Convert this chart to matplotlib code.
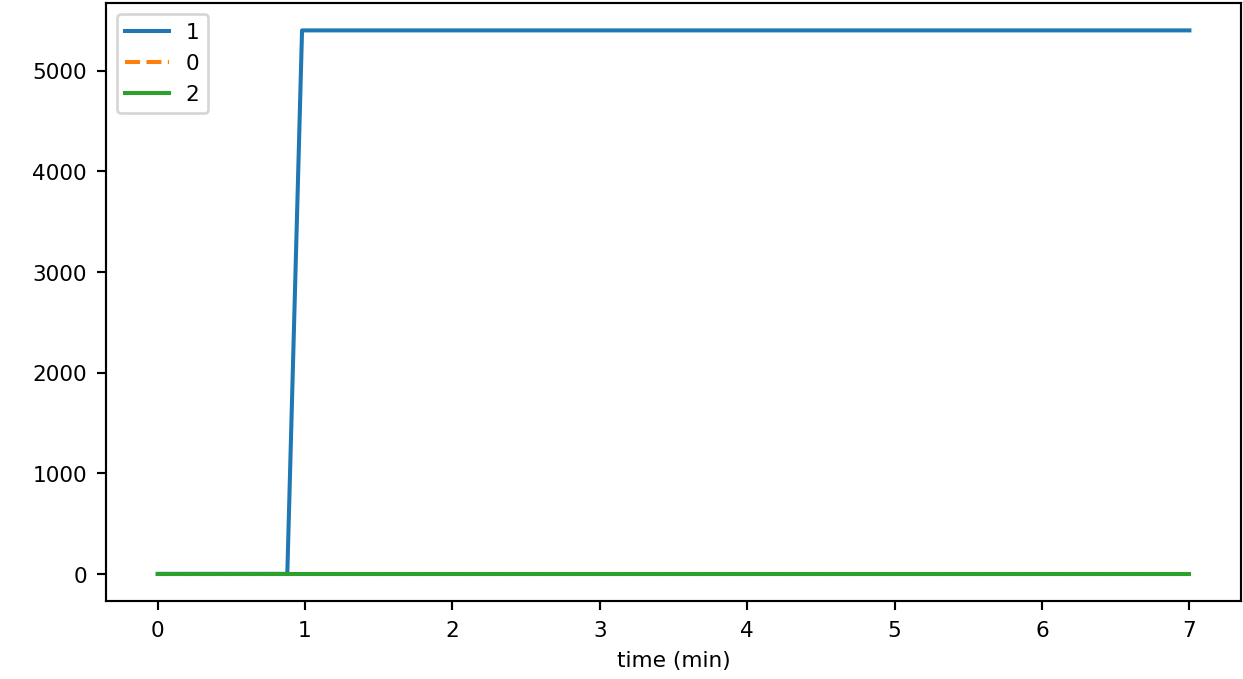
import numpy as np
import matplotlib
matplotlib.use('Agg')
import matplotlib.pyplot as plt

# time axis (minutes) and the three signals
time_min = [0.0, 0.88, 0.98, 7.0]
series_1 = [0, 0, 5400, 5400]
series_0 = [0, 0, 0, 0]
series_2 = [0, 0, 0, 0]

plt.rcParams['font.size'] = 8
dpi = 1243 / 6.4
fig = plt.figure(figsize=(6.4, 3.5), dpi=dpi)
ax = fig.add_axes([106 / 1243, 78 / 680, 1135 / 1243, 598 / 680])
ax.plot(time_min, series_1, '-', color='#1f77b4', label='1')
ax.plot(time_min, series_0, '--', color='#ff7f0e', label='0')
ax.plot(time_min, series_2, '-', color='#2ca02c', label='2')
ax.set_xlabel('time (min)')
ax.legend(loc='upper left')
fig.savefig('out.png', dpi=dpi)
